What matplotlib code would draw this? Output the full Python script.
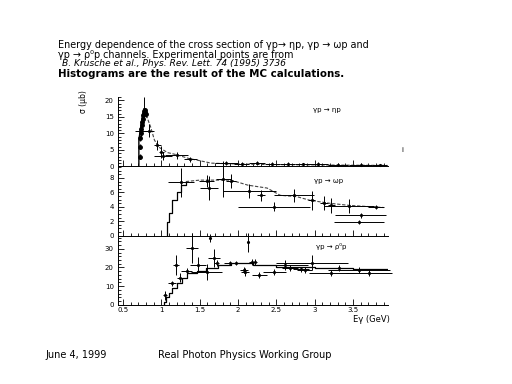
import matplotlib
matplotlib.use("Agg")
import matplotlib.pyplot as plt
from matplotlib.ticker import MultipleLocator, FormatStrFormatter

# --- gamma p -> eta p ---
eta_krusche_E = [0.716, 0.722, 0.728, 0.734, 0.740, 0.746, 0.752, 0.758, 0.764, 0.770, 0.776, 0.782, 0.788, 0.794]
eta_krusche_v = [3.0, 6.0, 8.5, 10.0, 11.5, 12.5, 13.5, 14.5, 15.5, 16.2, 16.8, 17.0, 16.5, 15.8]
eta_E = [0.78, 0.74, 0.84, 0.95, 1.00, 1.02, 1.20, 1.38, 1.85, 2.05, 2.25, 2.45, 2.65, 2.85, 3.05, 3.3, 3.6, 3.85]
eta_v = [17.5, 10.8, 10.8, 6.5, 4.5, 3.2, 3.4, 2.2, 0.9, 0.8, 0.9, 0.7, 0.8, 0.6, 0.7, 0.5, 0.5, 0.4]
eta_xerr = [0.0, 0.08, 0.06, 0.04, 0.03, 0.12, 0.15, 0.08, 0.15, 0.1, 0.1, 0.1, 0.1, 0.1, 0.12, 0.13, 0.15, 0.1]
eta_yerr = [3.5, 1.8, 2.0, 1.5, 1.8, 1.2, 1.0, 0.8, 0.6, 0.6, 0.6, 0.5, 0.5, 0.5, 0.5, 0.4, 0.4, 0.4]
eta_mc_E = [0.707, 0.707, 0.75, 0.78, 0.82, 0.86, 0.91, 0.97, 1.08, 1.19, 1.36, 1.49, 1.65, 1.9, 2.3, 2.8, 3.3, 3.95]
eta_mc_v = [0, 8, 15, 17, 14.5, 12, 8, 5.8, 4.2, 3.6, 2.4, 1.8, 1.0, 0.8, 0.6, 0.5, 0.4, 0.3]

# --- gamma p -> omega p ---
omega_E = [1.26, 1.59, 1.62, 1.81, 1.91, 2.15, 2.30, 2.47, 2.73, 2.96, 3.12, 3.22, 3.45, 3.58, 3.60, 3.80]
omega_v = [7.4, 7.6, 6.6, 7.8, 7.6, 6.2, 5.6, 4.0, 5.6, 4.9, 4.5, 4.2, 4.1, 1.9, 2.8, 4.0]
omega_xerr = [0.17, 0.1, 0.12, 0.1, 0.06, 0.35, 0.05, 0.47, 0.26, 0.05, 0.05, 0.05, 0.33, 0.33, 0.33, 0.1]
omega_yerr = [2.0, 0.8, 1.7, 2.5, 1.0, 1.0, 0.8, 0.6, 0.9, 1.3, 1.0, 1.0, 1.0, 0.3, 0.3, 0.3]
omega_mc_E = [1.08, 1.08, 1.10, 1.14, 1.20, 1.26, 1.32, 1.5, 1.91, 2.13, 2.38, 2.55, 2.77, 2.94, 3.19, 3.45, 3.9]
omega_mc_v = [0, 1.9, 3.1, 4.9, 6.0, 7.0, 7.5, 7.7, 7.7, 7.0, 6.6, 5.6, 5.4, 4.9, 4.5, 4.2, 3.9]

# --- gamma p -> rho0 p ---
rho_E = [1.05, 1.14, 1.19, 1.24, 1.33, 1.40, 1.48, 1.59, 1.63, 1.69, 1.72, 1.90, 1.97, 2.08, 2.13,
         2.09, 2.18, 2.22, 2.28, 2.47, 2.61, 2.68, 2.82, 2.87, 2.96, 3.22, 3.32, 3.58, 3.71]
rho_v = [5.2, 11.5, 21.4, 14.5, 18.2, 30.5, 21.4, 17.6, 35.8, 25.0, 22.4, 22.4, 22.4, 18.7, 33.5,
         17.6, 23.0, 23.0, 16.0, 17.6, 21.4, 19.8, 19.0, 18.7, 22.4, 17.0, 19.8, 18.7, 17.1]
rho_xerr = [0.03, 0.05, 0.04, 0.04, 0.075, 0.075, 0.1, 0.2, 0.0, 0.075, 0.03, 0.08, 0.05, 0.05, 0.0,
            0.05, 0.03, 0.03, 0.1, 0.15, 0.3, 0.1, 0.1, 0.1, 0.47, 0.3, 0.1, 0.4, 0.3]
rho_yerr = [2.4, 1.5, 5.5, 2.5, 1.5, 8, 4, 4.5, 2, 5, 1.5, 1, 1, 1.5, 5,
            2, 1.5, 1.5, 1.5, 1.5, 2.5, 1.5, 1.5, 1.5, 4, 1.5, 1.5, 1.5, 1.5]
rho_mc_E = [1.03, 1.03, 1.06, 1.10, 1.14, 1.20, 1.27, 1.33, 1.46, 1.58, 1.74, 1.91, 2.2, 2.5, 3.0, 3.5, 3.95]
rho_mc_v = [0, 1.6, 4, 6.5, 9, 11.5, 14.4, 17, 18.3, 19.6, 21.4, 22.4, 21.5, 20.5, 19.8, 19.3, 19.0]

plt.rcParams['font.family'] = ['DejaVu Sans']
fig = plt.figure(figsize=(5.12, 3.84), dpi=100)

left, width = 0.2305, 0.527
h = 0.1803
ax_rho = fig.add_axes([left, 0.206, width, h])
ax_om = fig.add_axes([left, 0.206 + h, width, h])
ax_eta = fig.add_axes([left, 0.206 + 2 * h, width, h])

ebkw = dict(fmt='.', color='black', markersize=2.5, elinewidth=0.7, capsize=0, clip_on=False)
dash = (0, (3, 1.5))

# eta
ax_eta.plot(eta_mc_E[:4], eta_mc_v[:4], color='black', lw=1.0)
ax_eta.plot(eta_mc_E[3:], eta_mc_v[3:], color='#444444', lw=0.8, ls=dash)
ax_eta.errorbar(eta_krusche_E, eta_krusche_v, yerr=0.8, fmt='o', color='black', markersize=2.5,
                elinewidth=1.0, capsize=0)
ax_eta.errorbar(eta_E, eta_v, xerr=eta_xerr, yerr=eta_yerr, **ebkw)
ax_eta.set_ylim(0, 21)
ax_eta.yaxis.set_major_locator(MultipleLocator(5))
ax_eta.yaxis.set_minor_locator(MultipleLocator(1))

# omega
ax_om.plot(omega_mc_E[:7], omega_mc_v[:7], color='black', lw=0.9, drawstyle='steps-post')
ax_om.plot(omega_mc_E[6:], omega_mc_v[6:], color='#444444', lw=0.8, ls=dash)
ax_om.errorbar(omega_E, omega_v, xerr=omega_xerr, yerr=omega_yerr, **ebkw)
ax_om.set_ylim(0, 9.6)
ax_om.yaxis.set_major_locator(MultipleLocator(2))
ax_om.yaxis.set_minor_locator(MultipleLocator(0.5))

# rho
ax_rho.plot(rho_mc_E, rho_mc_v, color='black', lw=0.9, drawstyle='steps-post')
ax_rho.errorbar(rho_E, rho_v, xerr=rho_xerr, yerr=rho_yerr, **ebkw)
ax_rho.set_ylim(0, 37)
ax_rho.yaxis.set_major_locator(MultipleLocator(10))
ax_rho.yaxis.set_minor_locator(MultipleLocator(2))

for ax in (ax_eta, ax_om, ax_rho):
    ax.set_xlim(0.435, 3.955)
    ax.xaxis.set_major_locator(MultipleLocator(0.5))
    ax.xaxis.set_minor_locator(MultipleLocator(0.1))
    ax.xaxis.set_major_formatter(FormatStrFormatter('%g'))
    ax.spines['top'].set_visible(False)
    ax.spines['right'].set_visible(False)
    ax.spines['left'].set_linewidth(0.7)
    ax.spines['bottom'].set_linewidth(0.7)
    ax.patch.set_alpha(0)
    ax.tick_params(which='both', direction='in', labelsize=5, width=0.6, pad=3)
    ax.tick_params(axis='x', pad=1.5)
    ax.tick_params(which='major', length=4)
    ax.tick_params(which='minor', length=2)
for ax in (ax_eta, ax_om):
    ax.tick_params(axis='x', labelbottom=False)

fig.text(0.163, 0.735, 'σ (μb)', rotation=90, fontsize=5.5, ha='center', va='center')
fig.text(0.762, 0.168, 'Eγ (GeV)', fontsize=6, ha='right', va='center')

fig.text(0.639, 0.714, 'γp → ηp', fontsize=5, ha='center', va='center')
fig.text(0.641, 0.529, 'γp → ωp', fontsize=5, ha='center', va='center')
fig.text(0.646, 0.359, 'γp → ρ⁰p', fontsize=5, ha='center', va='center')
fig.text(0.785, 0.61, 'i', fontsize=5, ha='center', va='center')

fig.text(0.113, 0.884, 'Energy dependence of the cross section of γp→ ηp, γp → ωp and',
         fontsize=6.9, ha='left', va='center')
fig.text(0.113, 0.858, 'γp → ρ⁰p channels. Experimental points are from',
         fontsize=6.9, ha='left', va='center')
fig.text(0.121, 0.834, 'B. Krusche et al., Phys. Rev. Lett. 74 (1995) 3736',
         fontsize=6.6, style='italic', ha='left', va='center')
fig.text(0.113, 0.808, 'Histograms are the result of the MC calculations.',
         fontsize=7.4, weight='bold', ha='left', va='center')

fig.text(0.088, 0.076, 'June 4, 1999', fontsize=7, ha='left', va='center')
fig.text(0.309, 0.076, 'Real Photon Physics Working Group', fontsize=7, ha='left', va='center')

fig.savefig('out.png', dpi=100, facecolor='white')
